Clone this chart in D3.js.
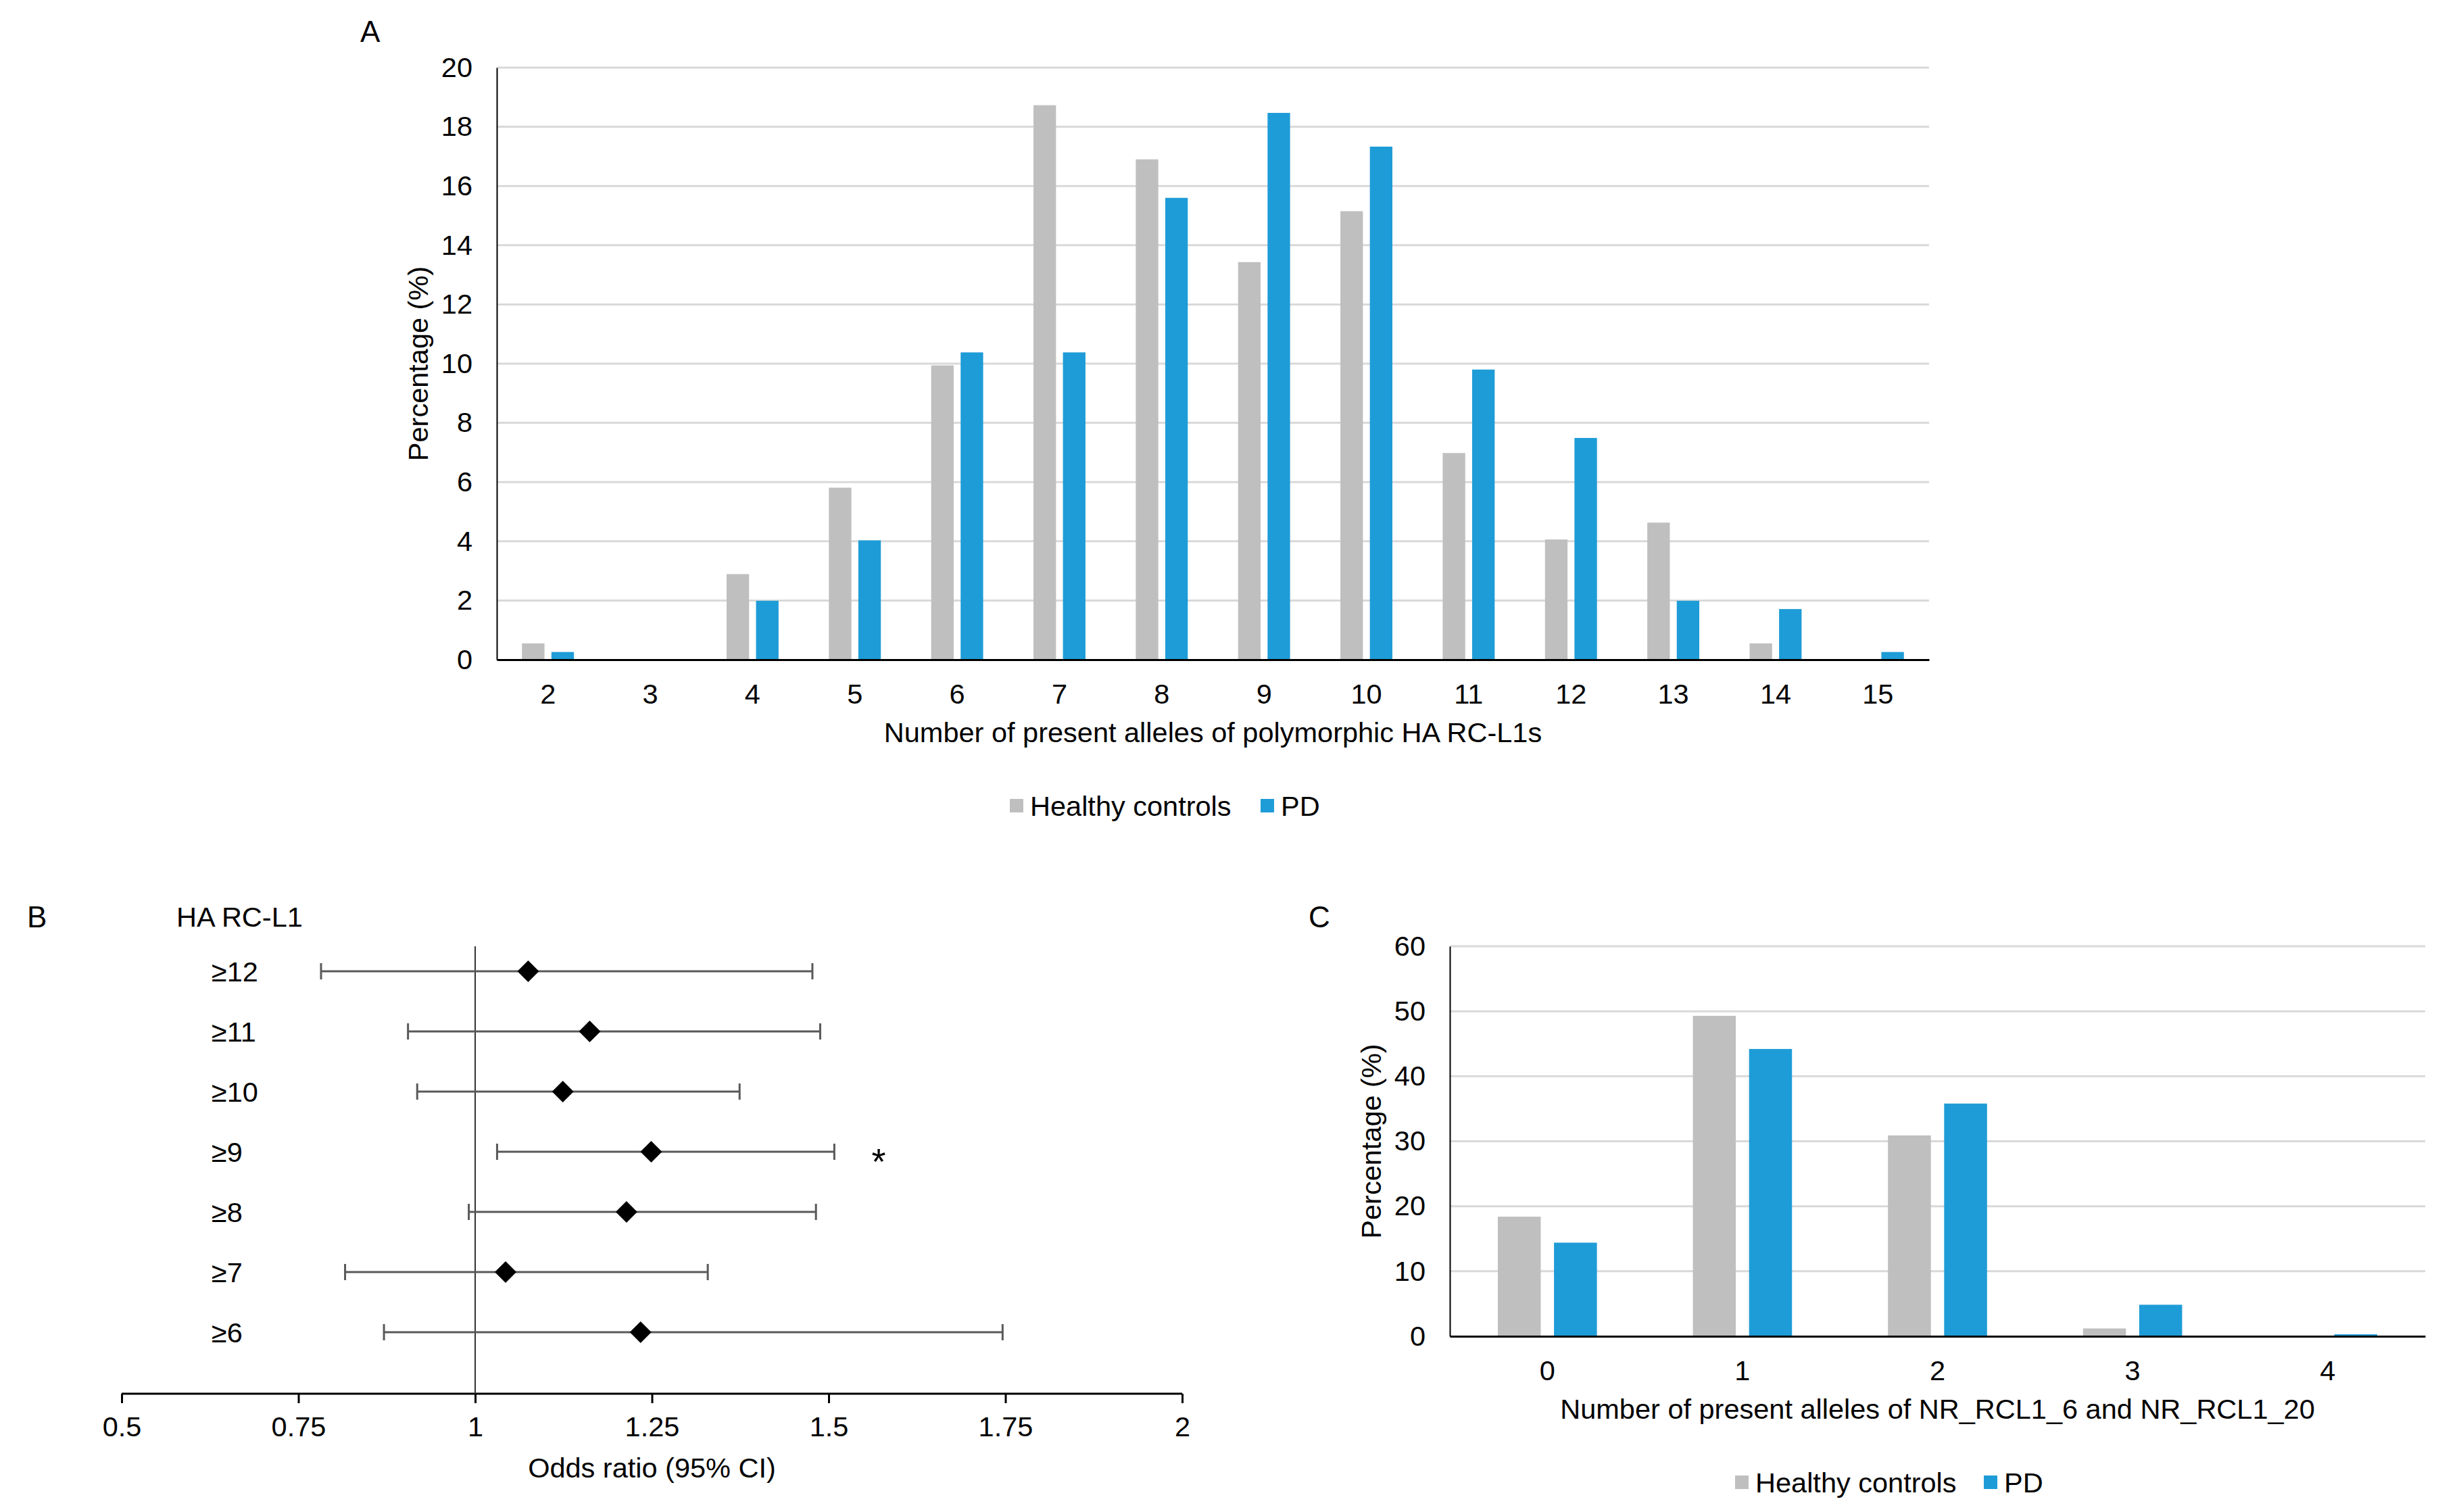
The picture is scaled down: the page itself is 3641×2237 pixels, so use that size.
<!DOCTYPE html>
<html lang="en">
<head>
<meta charset="UTF-8">
<title>HA RC-L1 alleles</title>
<script src="https://d3js.org/d3.v7.min.js"></script>
<style>
    body { margin: 0; background: #fff; }
    svg text { font-family: "Liberation Sans", Arial, sans-serif; fill: #000; }
    .grid line { stroke: #d9d9d9; stroke-width: 3px; }
</style>
</head>
<body>
<svg id="canvas" width="3641" height="2237"></svg>
<script>
// panel A: number of present alleles of polymorphic HA RC-L1s
let allelesA = ["2","3","4","5","6","7","8","9","10","11","12","13","14","15"];
let healthyA = [0.55, 0, 2.89, 5.81, 9.94, 18.73, 16.9, 13.43, 15.15, 6.98, 4.06, 4.63, 0.55, 0];
let pdA      = [0.26, 0, 1.99, 4.03, 10.38, 10.38, 15.6, 18.47, 17.33, 9.8, 7.49, 1.99, 1.71, 0.26];
let ticksA   = [0, 2, 4, 6, 8, 10, 12, 14, 16, 18, 20];

// panel B: odds ratios (95% CI)
let rowsB  = ["≥12","≥11","≥10","≥9","≥8","≥7","≥6"];
let orB    = [1.075, 1.162, 1.124, 1.249, 1.214, 1.043, 1.234];
let lowB   = [0.782, 0.905, 0.918, 1.031, 0.991, 0.816, 0.871];
let highB  = [1.477, 1.488, 1.374, 1.508, 1.482, 1.329, 1.746];
let starB  = ["≥9"];
let ticksB = [0.5, 0.75, 1, 1.25, 1.5, 1.75, 2];

// panel C: NR_RCL1_6 and NR_RCL1_20
let allelesC = ["0","1","2","3","4"];
let healthyC = [18.4, 49.3, 30.9, 1.2, 0];
let pdC      = [14.4, 44.2, 35.8, 4.85, 0.3];
let ticksC   = [0, 10, 20, 30, 40, 50, 60];

let groups = ["Healthy controls", "PD"];
let colors = {"Healthy controls": "#bfbfbf", "PD": "#1e9cd7"};
let fs = 41.5;

let svg = d3.select("#canvas");

function barPanel(cfg){
    let g = svg.append("g");
    let x = d3.scaleBand().domain(cfg.cats).range([cfg.left, cfg.right]);
    let sub = d3.scaleBand().domain(groups).range([0, x.bandwidth()])
        .paddingInner(0.236).paddingOuter(0.854);
    let y = d3.scaleLinear().domain([0, cfg.max]).range([cfg.bottom, cfg.top]);

    // gridlines
    g.append("g").attr("class","grid")
        .selectAll("line").data(cfg.ticks.filter(d => d > 0)).enter().append("line")
        .attr("x1", cfg.left).attr("x2", cfg.right)
        .attr("y1", d => y(d)).attr("y2", d => y(d));

    // bars
    let rows = cfg.cats.map((c, i) => ({cat: c, vals: [cfg.healthy[i], cfg.pd[i]]}));
    rows.forEach(r => {
        groups.forEach((k, j) => {
            if (r.vals[j] <= 0) return;
            g.append("rect")
                .attr("x", x(r.cat) + sub(k))
                .attr("width", sub.bandwidth())
                .attr("y", y(r.vals[j]))
                .attr("height", y(0) - y(r.vals[j]))
                .attr("fill", colors[k]);
        });
    });

    // axes
    let yAxis = g.append("g").attr("transform", `translate(${cfg.left},0)`)
        .call(d3.axisLeft(y).tickValues(cfg.ticks).tickSize(0).tickPadding(36));
    yAxis.select(".domain").attr("stroke","#000").attr("stroke-width",2);
    yAxis.selectAll("text").style("font-size", fs + "px");

    let xAxis = g.append("g").attr("transform", `translate(0,${cfg.bottom})`)
        .call(d3.axisBottom(x).tickSize(0).tickPadding(36));
    xAxis.select(".domain").attr("stroke","#000").attr("stroke-width",3);
    xAxis.selectAll("text").style("font-size", fs + "px");

    g.append("text")
        .attr("transform", `translate(${cfg.ytitleX},${(cfg.top + cfg.bottom) / 2}) rotate(-90)`)
        .attr("text-anchor","middle").attr("dominant-baseline","central")
        .style("font-size", fs + "px").text("Percentage (%)");
    g.append("text")
        .attr("x", (cfg.left + cfg.right) / 2).attr("y", cfg.xtitleY)
        .attr("text-anchor","middle").attr("dominant-baseline","central")
        .style("font-size", fs + "px").text(cfg.xtitle);

    // legend
    let lg = g.append("g");
    groups.forEach((k, j) => {
        lg.append("rect").attr("x", cfg.legendX[j]).attr("y", cfg.legendY - 10)
            .attr("width", 20).attr("height", 20).attr("fill", colors[k]);
        lg.append("text").attr("x", cfg.legendX[j] + 30).attr("y", cfg.legendY)
            .attr("dominant-baseline","central").style("font-size", fs + "px").text(k);
    });

    g.append("text").attr("x", cfg.letter[0]).attr("y", cfg.letter[1])
        .attr("dominant-baseline","central").style("font-size", "44px").text(cfg.name);
}

barPanel({
    name: "A", letter: [533, 46],
    cats: allelesA, healthy: healthyA, pd: pdA, ticks: ticksA, max: 20,
    left: 735, right: 2854, top: 100, bottom: 976,
    ytitleX: 618, xtitleY: 1083,
    xtitle: "Number of present alleles of polymorphic HA RC-L1s",
    legendX: [1494, 1865], legendY: 1192
});

barPanel({
    name: "C", letter: [1936, 1356],
    cats: allelesC, healthy: healthyC, pd: pdC, ticks: ticksC, max: 60,
    left: 2145, right: 3588, top: 1400, bottom: 1977,
    ytitleX: 2028, xtitleY: 2084,
    xtitle: "Number of present alleles of NR_RCL1_6 and NR_RCL1_20",
    legendX: [2567, 2935], legendY: 2193
});

// panel B forest plot
let gB = svg.append("g");
let xB = d3.scaleLinear().domain([0.5, 2]).range([180, 1749]);
let yB = d3.scalePoint().domain(rowsB).range([1437, 1971]);
let axisY = 2062;

let axB = gB.append("g").attr("transform", `translate(0,${axisY})`)
    .call(d3.axisBottom(xB).tickValues(ticksB).tickSize(14).tickPadding(20).tickFormat(d3.format("")));
axB.select(".domain").attr("stroke","#000").attr("stroke-width",3)
    .attr("d", `M${xB(0.5)},0H${xB(2)}`);
axB.selectAll(".tick line").attr("stroke","#000").attr("stroke-width",3);
axB.selectAll("text").style("font-size", fs + "px");

gB.append("line")
    .attr("x1", xB(1)).attr("x2", xB(1)).attr("y1", 1400).attr("y2", axisY)
    .attr("stroke", "#333").attr("stroke-width", 2);

let forest = rowsB.map((r, i) => ({row: r, or: orB[i], lo: lowB[i], hi: highB[i]}));
let rowG = gB.selectAll(".row").data(forest).enter().append("g")
    .attr("transform", d => `translate(0,${yB(d.row)})`);
rowG.append("line").attr("x1", d => xB(d.lo)).attr("x2", d => xB(d.hi))
    .attr("stroke", "#595959").attr("stroke-width", 3);
rowG.append("line").attr("x1", d => xB(d.lo)).attr("x2", d => xB(d.lo))
    .attr("y1", -12).attr("y2", 12).attr("stroke", "#595959").attr("stroke-width", 3);
rowG.append("line").attr("x1", d => xB(d.hi)).attr("x2", d => xB(d.hi))
    .attr("y1", -12).attr("y2", 12).attr("stroke", "#595959").attr("stroke-width", 3);
rowG.append("path")
    .attr("d", d => { let cx = xB(d.or); return `M${cx},-16L${cx+16},0L${cx},16L${cx-16},0Z`; })
    .attr("fill", "#000");
rowG.append("text").attr("x", 313).attr("dominant-baseline","central")
    .style("font-size", fs + "px").text(d => d.row);
rowG.filter(d => starB.includes(d.row)).append("text")
    .attr("x", 1300).attr("y", 14).attr("text-anchor","middle").attr("dominant-baseline","central")
    .style("font-size", "54px").text("*");

gB.append("text").attr("x", 40).attr("y", 1356).attr("dominant-baseline","central")
    .style("font-size", "44px").text("B");
gB.append("text").attr("x", 261).attr("y", 1356).attr("dominant-baseline","central")
    .style("font-size", fs + "px").text("HA RC-L1");
gB.append("text").attr("x", xB(1.25)).attr("y", 2171)
    .attr("text-anchor","middle").attr("dominant-baseline","central")
    .style("font-size", fs + "px").text("Odds ratio (95% CI)");
</script>
</body>
</html>
